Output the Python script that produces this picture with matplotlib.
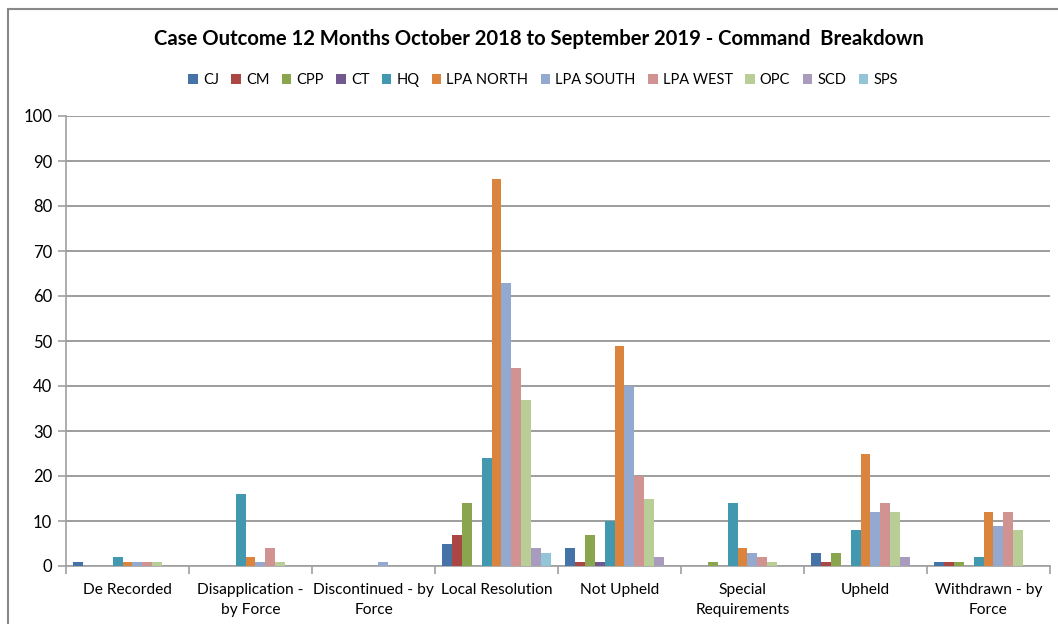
import matplotlib
matplotlib.use("Agg")
import matplotlib.pyplot as plt
import numpy as np
from matplotlib.patches import Rectangle

plt.rcParams['font.family'] = ['Lato', 'DejaVu Sans']

categories = ["De Recorded", "Disapplication -\nby Force", "Discontinued - by\nForce",
              "Local Resolution", "Not Upheld", "Special\nRequirements", "Upheld",
              "Withdrawn - by\nForce"]
series_names = ["CJ", "CM", "CPP", "CT", "HQ", "LPA NORTH", "LPA SOUTH", "LPA WEST",
                "OPC", "SCD", "SPS"]
CJ        = [1, 0, 0, 5, 4, 0, 3, 1]
CM        = [0, 0, 0, 7, 1, 0, 1, 1]
CPP       = [0, 0, 0, 14, 7, 1, 3, 1]
CT        = [0, 0, 0, 0, 1, 0, 0, 0]
HQ        = [2, 16, 0, 24, 10, 14, 8, 2]
LPA_NORTH = [1, 2, 0, 86, 49, 4, 25, 12]
LPA_SOUTH = [1, 1, 1, 63, 40, 3, 12, 9]
LPA_WEST  = [1, 4, 0, 44, 20, 2, 14, 12]
OPC       = [1, 1, 0, 37, 15, 1, 12, 8]
SCD       = [0, 0, 0, 4, 2, 0, 2, 0]
SPS       = [0, 0, 0, 3, 0, 0, 0, 0]
values = [CJ, CM, CPP, CT, HQ, LPA_NORTH, LPA_SOUTH, LPA_WEST, OPC, SCD, SPS]
colors = ["#4572A7", "#AA4643", "#89A54E", "#71588F", "#4198AF", "#DB843D",
          "#93A9CF", "#D19392", "#B9CD96", "#A99BBD", "#92C5D5"]

fig = plt.figure(figsize=(10.58, 6.24), dpi=100)
# outer chart border
fig.patches.append(Rectangle((8/1058, -0.1), 1.2, (624-9)/624 + 0.1, transform=fig.transFigure,
                             fill=False, edgecolor="#888888", linewidth=1.5))
ax = fig.add_axes([66/1058, 1-566/624, (1050-66)/1058, (566-116)/624])

n = len(series_names)
bw = 1.0 / (n + 1.5)
x = np.arange(len(categories))
for i, (name, vals, c) in enumerate(zip(series_names, values, colors)):
    offs = (i - (n - 1) / 2) * bw
    ax.bar(x + offs, vals, width=bw, color=c, label=name, zorder=3)

ax.set_xlim(-0.5, len(categories) - 0.5)
ax.set_ylim(0, 100)
ax.set_yticks(range(0, 101, 10))
ax.yaxis.grid(True, color="#8c8c8c", linewidth=1.2, zorder=0)
ax.set_axisbelow(True)
for s in ["top", "right"]:
    ax.spines[s].set_visible(False)
ax.spines["left"].set_color("#a0a0a0")
ax.spines["bottom"].set_color("#a0a0a0")
ax.spines["left"].set_linewidth(1.2)
ax.spines["bottom"].set_linewidth(1.2)

ax.set_xticks(x)
ax.set_xticklabels(categories, fontsize=11.2, linespacing=1.6)
ax.tick_params(axis="x", which="major", length=0, pad=12)
ax.set_xticks(np.arange(-0.5, len(categories), 1.0), minor=True)
ax.tick_params(axis="x", which="minor", length=6, color="#a0a0a0", width=1.2)
ax.tick_params(axis="y", length=6, color="#a0a0a0", width=1.2, labelsize=12, pad=4)

fig.text(539/1058, 1-39/624, "Case Outcome 12 Months October 2018 to September 2019 - Command  Breakdown",
         ha="center", va="center", fontsize=14.6, fontweight="bold")

handles, labels = ax.get_legend_handles_labels()
fig.legend(handles, labels, loc="center", bbox_to_anchor=(543/1058, 1-80/624), ncol=11,
           frameon=False, fontsize=10.5, handlelength=0.65, handleheight=0.65,
           handletextpad=0.35, columnspacing=0.85)

fig.savefig("out.png", dpi=100)
